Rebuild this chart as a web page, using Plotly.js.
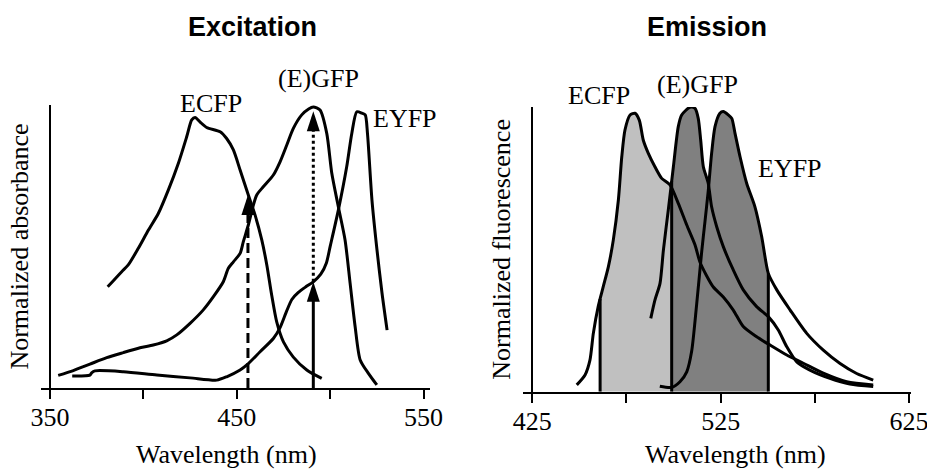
<!DOCTYPE html>
<html>
<head>
<meta charset="utf-8">
<script src="https://cdn.plot.ly/plotly-3.0.1.min.js"></script>
<style>html,body{margin:0;padding:0;background:#fff}#chart{width:927px;height:471px}</style>
</head>
<body>
<div id="chart"></div>
<script>
// ---------------- DATA ----------------
// Excitation spectra (normalized absorbance)
const exECFP_nm = [380.9, 388.4, 391.9, 397.3, 402.7, 408.0, 413.4, 418.7, 423.2, 425.9, 427.7, 430.3, 433.9, 441.1, 444.6, 448.2, 451.8, 456.2, 459.8, 463.4, 466.1, 468.7, 471.4, 475.0, 480.3, 487.5, 495.5];
const exECFP_val = [0.360, 0.414, 0.438, 0.497, 0.562, 0.621, 0.705, 0.799, 0.894, 0.954, 0.963, 0.947, 0.927, 0.912, 0.888, 0.847, 0.776, 0.687, 0.616, 0.527, 0.438, 0.331, 0.235, 0.164, 0.110, 0.064, 0.034];

const exGFP_nm = [354.4, 362.5, 371.4, 380.4, 389.3, 398.2, 405.3, 412.5, 417.9, 425.0, 432.1, 437.5, 442.8, 445.5, 448.2, 451.8, 453.5, 456.2, 458.9, 460.7, 464.2, 469.6, 473.2, 476.8, 480.3, 484.8, 488.5, 491.0, 494.6, 498.2, 500.9, 504.4, 508.0, 510.7, 513.4, 516.1, 520.5, 525.0];
const exGFP_val = [0.045, 0.062, 0.085, 0.108, 0.126, 0.143, 0.153, 0.168, 0.189, 0.230, 0.278, 0.325, 0.378, 0.426, 0.449, 0.479, 0.520, 0.580, 0.651, 0.687, 0.716, 0.758, 0.805, 0.865, 0.924, 0.972, 0.993, 1.000, 0.989, 0.906, 0.764, 0.645, 0.527, 0.373, 0.218, 0.100, 0.052, 0.011];

const exEYFP_nm = [361.9, 371.4, 372.3, 374.1, 389.3, 407.2, 425.0, 439.3, 444.6, 451.8, 455.4, 462.5, 469.6, 473.2, 476.5, 479.5, 483.0, 487.0, 491.0, 495.0, 498.0, 500.0, 504.4, 508.9, 511.6, 514.3, 517.0, 518.8, 520.0, 522.4, 525.1, 527.8, 530.5];
const exEYFP_val = [0.043, 0.046, 0.054, 0.061, 0.058, 0.046, 0.036, 0.028, 0.040, 0.064, 0.082, 0.129, 0.176, 0.215, 0.270, 0.315, 0.340, 0.360, 0.378, 0.405, 0.445, 0.503, 0.633, 0.788, 0.906, 0.983, 0.978, 0.972, 0.906, 0.669, 0.491, 0.337, 0.206];

// Excitation laser lines (arrows): wavelength, start height, tip height
const laserNm   = [456, 491, 491];
const laserFrom = [0, 0, 0.378];
const laserTo   = [0.687, 0.378, 0.985];

// Emission spectra (normalized fluorescence)
const emECFP_nm = [448.6, 453.0, 455.6, 457.4, 460.0, 462.7, 465.4, 468.0, 470.7, 472.5, 474.2, 476.9, 479.5, 481.8, 483.9, 486.6, 490.1, 493.7, 498.1, 502.5, 507.0, 511.4, 514.0, 517.6, 521.1, 526.4, 531.7, 537.0, 544.1, 551.2, 560.1, 568.9, 579.5, 591.9, 606.0];
const emECFP_val = [0.024, 0.059, 0.111, 0.205, 0.300, 0.370, 0.440, 0.533, 0.674, 0.826, 0.920, 0.973, 0.979, 0.955, 0.885, 0.838, 0.791, 0.750, 0.727, 0.662, 0.586, 0.516, 0.456, 0.407, 0.368, 0.333, 0.287, 0.229, 0.193, 0.164, 0.129, 0.100, 0.065, 0.035, 0.024];

const emGFP_nm = [487.9, 490.1, 492.8, 494.6, 497.2, 499.9, 502.5, 504.3, 508.7, 511.4, 513.1, 514.4, 515.8, 518.4, 520.2, 522.9, 526.4, 531.7, 537.0, 544.1, 550.3, 555.6, 560.1, 565.4, 572.4, 583.0, 593.6, 606.0];
const emGFP_val = [0.258, 0.322, 0.381, 0.498, 0.639, 0.791, 0.932, 0.973, 1.000, 0.996, 0.961, 0.885, 0.791, 0.733, 0.650, 0.580, 0.510, 0.428, 0.358, 0.299, 0.264, 0.217, 0.158, 0.105, 0.076, 0.047, 0.027, 0.018];

const emEYFP_nm = [492.7, 499.0, 503.4, 507.0, 509.6, 512.3, 514.9, 516.7, 518.4, 520.2, 522.0, 524.6, 526.4, 529.1, 530.9, 532.6, 535.3, 538.8, 543.2, 546.8, 550.3, 554.8, 561.8, 570.7, 579.5, 588.4, 597.2, 606.0];
const emEYFP_val = [0.019, 0.015, 0.035, 0.070, 0.142, 0.310, 0.490, 0.600, 0.705, 0.838, 0.932, 0.979, 0.985, 0.973, 0.961, 0.909, 0.826, 0.733, 0.650, 0.545, 0.416, 0.358, 0.288, 0.205, 0.146, 0.099, 0.064, 0.041];

// Emission filter band edges (nm)
const bandEdges = [461, 499, 550.3];

// Tick labels
const exTickVals = [350, 400, 450, 500, 550];
const exTickText = ['350', '', '450', '', '550'];
const emTickVals = [425, 475, 525, 575, 625];
const emTickText = ['425', '', '525', '', '625'];

// Curve labels
const exLabelText = ['ECFP', '(E)GFP', 'EYFP'];
const emLabelText = ['ECFP', '(E)GFP', 'EYFP'];

// ---------------- helpers ----------------
function interp(xs, ys, x) {
  if (x < xs[0] || x > xs[xs.length - 1]) return null;
  for (let i = 0; i < xs.length - 1; i++) {
    if (x >= xs[i] && x <= xs[i + 1]) {
      const t = (x - xs[i]) / (xs[i + 1] - xs[i]);
      return ys[i] + t * (ys[i + 1] - ys[i]);
    }
  }
  return ys[ys.length - 1];
}
function envelope(curves, a, b) {
  let xs = [a, b];
  curves.forEach(c => c[0].forEach(x => { if (x > a && x < b) xs.push(x); }));
  xs.sort((p, q) => p - q);
  const ys = xs.map(x => {
    let m = 0;
    curves.forEach(c => { const v = interp(c[0], c[1], x); if (v !== null && v > m) m = v; });
    return m;
  });
  return {x: xs, y: ys};
}

const W = 927, H = 471;
const px = v => v / W, py = v => 1 - v / H;
const serif = 'Liberation Serif, Times New Roman, serif';
const sans = 'Liberation Sans, Arial, sans-serif';
const LW = 3;

// label positions (pixels in the figure)
const exLabelPos = [[211, 104], [318, 79], [405, 119]];
const emLabelPos = [[599, 96], [697, 85], [790, 169]];

const traces = [];
function curve(x, y, xa, ya) {
  traces.push({x: x, y: y, xaxis: xa, yaxis: ya, mode: 'lines', type: 'scatter',
    line: {color: '#000', width: LW, shape: 'spline', smoothing: 0.7}, hoverinfo: 'skip', showlegend: false});
}

// ---- Emission fills ----
const emCurves = [[emECFP_nm, emECFP_val], [emGFP_nm, emGFP_val], [emEYFP_nm, emEYFP_val]];
const fillLight = envelope([emCurves[0]], bandEdges[0], bandEdges[1]);
const fillDark = envelope([emCurves[1], emCurves[2]], bandEdges[1], bandEdges[2]);
traces.push({x: fillLight.x, y: fillLight.y, xaxis: 'x2', yaxis: 'y2', mode: 'lines', fill: 'tozeroy',
  fillcolor: '#c0c0c0', line: {width: 0, shape: 'spline', smoothing: 0.7}, hoverinfo: 'skip', showlegend: false});
traces.push({x: fillDark.x, y: fillDark.y, xaxis: 'x2', yaxis: 'y2', mode: 'lines', fill: 'tozeroy',
  fillcolor: '#808080', line: {width: 0, shape: 'spline', smoothing: 0.7}, hoverinfo: 'skip', showlegend: false});
// band edge lines
bandEdges.forEach(e => {
  let m = 0;
  emCurves.forEach(c => { const v = interp(c[0], c[1], e); if (v !== null && v > m) m = v; });
  traces.push({x: [e, e], y: [0, m], xaxis: 'x2', yaxis: 'y2', mode: 'lines',
    line: {color: '#000', width: LW}, hoverinfo: 'skip', showlegend: false});
});
curve(emECFP_nm, emECFP_val, 'x2', 'y2');
curve(emGFP_nm, emGFP_val, 'x2', 'y2');
curve(emEYFP_nm, emEYFP_val, 'x2', 'y2');

// ---- Excitation ----
curve(exECFP_nm, exECFP_val, 'x', 'y');
curve(exGFP_nm, exGFP_val, 'x', 'y');
curve(exEYFP_nm, exEYFP_val, 'x', 'y');
const dashes = ['10px,5px', 'solid', '3px,3px'];
laserNm.forEach((nm, i) => {
  traces.push({x: [nm, nm], y: [laserFrom[i], laserTo[i] - 0.02], xaxis: 'x', yaxis: 'y', mode: 'lines',
    line: {color: '#000', width: LW}, hoverinfo: 'skip', showlegend: false});
  traces[traces.length - 1].line.dash = dashes[i];
});
traces.push({x: laserNm, y: laserTo, xaxis: 'x', yaxis: 'y', mode: 'markers',
  marker: {symbol: 'arrow', size: 21, color: '#000', angle: 0, line: {width: 0}}, hoverinfo: 'skip', showlegend: false});

// ---------------- layout ----------------
const axisCommon = {showgrid: false, zeroline: false, showline: true, linecolor: '#000', linewidth: 2, fixedrange: true};
const tickFont = {family: serif, size: 26, color: '#000'};
const layout = {
  width: W, height: H,
  margin: {l: 0, r: 0, t: 0, b: 0},
  paper_bgcolor: '#fff', plot_bgcolor: 'rgba(0,0,0,0)',
  showlegend: false,
  xaxis: Object.assign({}, axisCommon, {
    domain: [px(41), px(430)], range: [345.19, 553.48], anchor: 'y',
    tickmode: 'array', tickvals: exTickVals, ticktext: exTickText,
    ticks: 'outside', ticklen: 9, tickwidth: 2, tickcolor: '#000',
    tickfont: tickFont, ticklabeloverflow: 'allow', ticklabelstandoff: -4
  }),
  yaxis: Object.assign({}, axisCommon, {
    domain: [py(388), py(105)], range: [0, 1.0071], anchor: 'free', position: px(50),
    showticklabels: false, ticks: '',
    title: {text: 'Normalized absorbance', font: {family: serif, size: 26, color: '#000'}, standoff: 12}
  }),
  xaxis2: Object.assign({}, axisCommon, {
    domain: [px(523), px(911)], range: [420.06, 626.06], anchor: 'y2',
    tickmode: 'array', tickvals: emTickVals, ticktext: emTickText,
    ticks: 'outside', ticklen: 9, tickwidth: 2, tickcolor: '#000',
    tickfont: tickFont, ticklabeloverflow: 'allow', ticklabelstandoff: -4
  }),
  yaxis2: Object.assign({}, axisCommon, {
    domain: [py(391.7), py(107)], range: [0, 1.001], anchor: 'free', position: px(532.3),
    showticklabels: false, ticks: '',
    title: {text: 'Normalized fluorescence', font: {family: serif, size: 26, color: '#000'}, standoff: 12}
  }),
  annotations: [],
  font: {family: serif, color: '#000'}
};
function addText(t, x, y, font) {
  layout.annotations.push({text: t, x: px(x), y: py(y), xref: 'paper', yref: 'paper', showarrow: false,
    xanchor: 'center', yanchor: 'middle', font: font});
}
const labelFont = {family: serif, size: 26, color: '#000'};
exLabelText.forEach((t, i) => addText(t, exLabelPos[i][0], exLabelPos[i][1], labelFont));
emLabelText.forEach((t, i) => addText(t, emLabelPos[i][0], emLabelPos[i][1], labelFont));
addText('<b>Excitation</b>', 252, 27, {family: sans, size: 27, color: '#000'});
addText('<b>Emission</b>', 707, 27, {family: sans, size: 27, color: '#000'});
addText('Wavelength (nm)', 226, 454, labelFont);
addText('Wavelength (nm)', 735, 454, labelFont);

Plotly.newPlot('chart', traces, layout, {staticPlot: true, displayModeBar: false});
</script>
</body>
</html>
